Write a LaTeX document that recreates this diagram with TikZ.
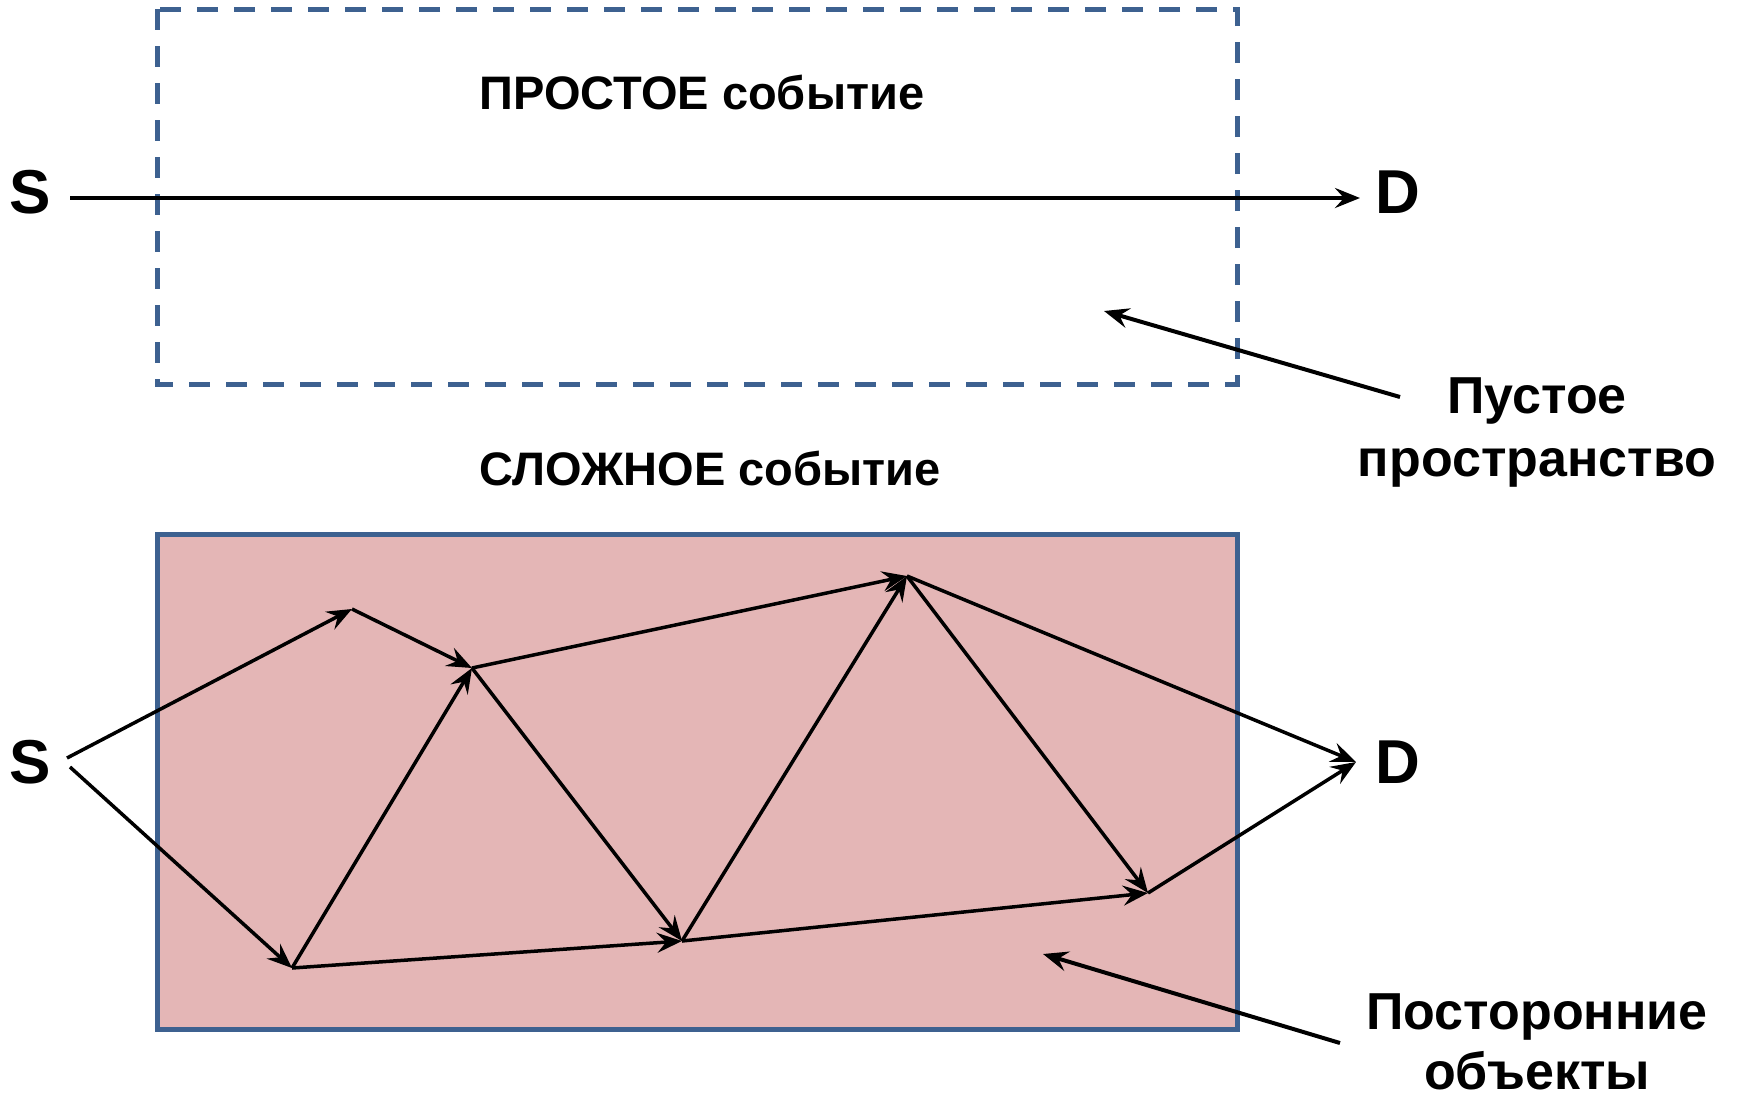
\documentclass[tikz,border=0pt]{standalone}
\usepackage{fontspec}
\setmainfont{Liberation Sans}
\usetikzlibrary{arrows.meta}

\definecolor{frameblue}{HTML}{3D6190}
\definecolor{clutter}{HTML}{E4B6B6}

\begin{document}
\begin{tikzpicture}[x=1pt,y=-1pt,
  tip/.style={-{Stealth[length=25pt,width=20pt,inset=9pt]}},
  ray/.style={tip,line width=3.5pt,line join=round},
  pointer/.style={tip,line width=4pt},
  letter/.style={font=\fontsize{62}{70}\selectfont\bfseries,anchor=base,inner sep=0pt},
  heading/.style={font=\fontsize{47}{56}\selectfont\bfseries,anchor=base,inner sep=0pt},
  caption/.style={font=\fontsize{52}{62}\selectfont\bfseries,anchor=base,inner sep=0pt}]

\useasboundingbox (0,0) rectangle (1740,1096);

% ---- simple event: empty region ----
\draw[frameblue,line width=5pt,dash pattern=on 21pt off 16pt] (157,9) rectangle (1237,384);
\node[heading] (simple) at (702,109) {ПРОСТОЕ событие};

\node[letter] (S1) at (30,213) {S};
\node[letter] (D1) at (1398,213) {D};
\coordinate (s1) at (70,198);
\coordinate (d1) at (1360,198);
\draw[tip,line width=4pt] (s1) -- (d1);

\node[caption] (emptyA) at (1537,413) {Пустое};
\node[caption] (emptyB) at (1537,476) {пространство};
\coordinate (emptyTail) at (1400,397);
\coordinate (emptyHead) at (1104,311);
\draw[pointer] (emptyTail) -- (emptyHead);

% ---- complex event: cluttered region ----
\node[heading] (complex) at (710,485) {СЛОЖНОЕ событие};
\draw[frameblue,fill=clutter,line width=5pt] (157,534) rectangle (1237,1029);

\node[letter] (S2) at (30,783) {S};
\node[letter] (D2) at (1398,783) {D};

\coordinate (sa) at (67,758);
\coordinate (sb) at (70,767);
\coordinate (p1) at (352,609);
\coordinate (p2) at (472,668);
\coordinate (p3) at (907,576);
\coordinate (p4) at (292,968);
\coordinate (p5) at (682,941);
\coordinate (p6) at (1148,893);
\coordinate (d2) at (1356,762);

\draw[ray] (sa) -- (p1);
\draw[ray] (p1) -- (p2);
\draw[ray] (p2) -- (p3);
\draw[ray] (p3) -- (d2);
\draw[ray] (sb) -- (p4);
\draw[ray] (p4) -- (p2);
\draw[ray] (p2) -- (p5);
\draw[ray] (p4) -- (p5);
\draw[ray] (p5) -- (p3);
\draw[ray] (p3) -- (p6);
\draw[ray] (p5) -- (p6);
\draw[ray] (p6) -- (d2);

\node[caption] (otherA) at (1537,1029) {Посторонние};
\node[caption] (otherB) at (1537,1089) {объекты};
\coordinate (otherTail) at (1340,1043);
\coordinate (otherHead) at (1043,954);
\draw[pointer] (otherTail) -- (otherHead);

\end{tikzpicture}
\end{document}
